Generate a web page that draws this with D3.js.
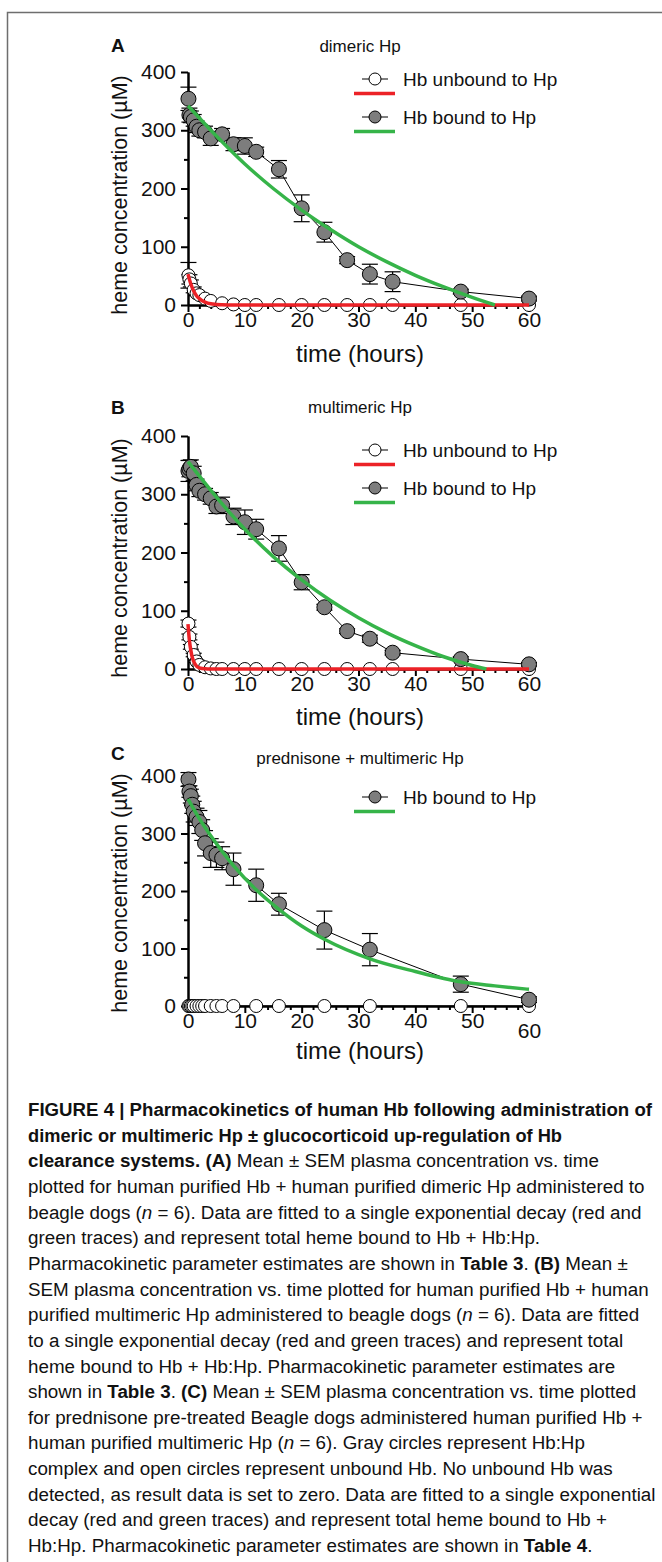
<!DOCTYPE html>
<html>
<head>
<meta charset="utf-8">
<script src="https://cdn.jsdelivr.net/npm/d3@7"></script>
<style>
body { margin: 0; background: #fff; }
svg text { font-family: "Liberation Sans", Arial, sans-serif; fill: #111; }
.cap { font-family: "Liberation Sans", Arial, sans-serif; font-size: 18.8px; white-space: pre; }
</style>
</head>
<body>
<svg id="fig" width="662" height="1562"></svg>
<script>
// ---- data (hours, heme uM) ----
var timeA = [0.08, 0.25, 0.5, 1, 1.5, 2, 3, 4, 6, 8, 10, 12, 16, 20, 24, 28, 32, 36, 48, 60];
var boundA = [354, 326, 323, 317, 306, 300, 297, 286, 293, 276, 273, 263, 233, 166, 125, 77, 53, 40, 23, 11];
var boundErrA = [20, 12, 10, 10, 10, 10, 10, 12, 10, 11, 14, 8, 15, 23, 17, 6, 17, 17, 4, 4];
var unboundA = [51, 44, 37, 26, 20, 17, 11, 7, 3, 1, 0, 0, 0, 0, 0, 0, 0, 0, 0, 0];
var unboundErrA = [22, 8, 6, 5, 4, 3, 2, 2, 1, 0, 0, 0, 0, 0, 0, 0, 0, 0, 0, 0];
var fitTimeRedA = [0, 0.5, 1, 1.5, 2, 3, 4, 5, 6, 8, 60];
var fitRedA = [53, 36, 24, 16, 11, 5, 2, 1, 0.5, 0, 0];
var fitTimeGreenA = [0, 5, 10, 15, 20, 25, 30, 35, 40, 45, 50, 54];
var fitGreenA = [342, 290, 242, 200, 163, 130, 100, 74, 51, 31, 13, 0];

var timeB = [0.08, 0.25, 0.5, 1, 1.5, 2, 3, 4, 5, 6, 8, 10, 12, 16, 20, 24, 28, 32, 36, 48, 60];
var boundB = [340, 344, 347, 336, 316, 306, 300, 293, 279, 281, 262, 252, 240, 207, 149, 106, 65, 52, 28, 17, 8];
var boundErrB = [18, 14, 12, 12, 10, 10, 10, 10, 12, 14, 14, 21, 17, 22, 13, 5, 4, 6, 4, 4, 3];
var unboundB = [78, 55, 38, 24, 13, 7, 3, 1, 0, 0, 0, 0, 0, 0, 0, 0, 0, 0, 0, 0, 0];
var unboundErrB = [6, 5, 4, 3, 2, 1, 1, 0, 0, 0, 0, 0, 0, 0, 0, 0, 0, 0, 0, 0, 0];
var fitTimeRedB = [0, 0.25, 0.5, 0.75, 1, 1.5, 2, 3, 4, 60];
var fitRedB = [77, 49, 32, 20, 13, 5, 2, 0.3, 0, 0];
var fitTimeGreenB = [0, 5, 10, 15, 20, 25, 30, 35, 40, 45, 50, 52.5];
var fitGreenB = [356, 295, 240, 193, 153, 118, 88, 62, 40, 21, 6, 0];

var timeC = [0.08, 0.25, 0.5, 0.75, 1, 1.5, 2, 2.5, 3, 4, 5, 6, 8, 12, 16, 24, 32, 48, 60];
var boundC = [394, 373, 365, 350, 338, 329, 320, 306, 283, 266, 263, 257, 238, 210, 177, 132, 98, 38, 11];
var boundErrC = [12, 10, 12, 15, 18, 15, 20, 18, 22, 25, 22, 20, 28, 28, 19, 33, 28, 14, 5];
var unboundC = [0, 0, 0, 0, 0, 0, 0, 0, 0, 0, 0, 0, 0, 0, 0, 0, 0, 0, 0];
var fitTimeGreenC = [0, 2, 4, 8, 12, 16, 20, 24, 32, 40, 48, 54, 60];
var fitGreenC = [360, 326, 296, 244, 202, 168, 139, 116, 82, 60, 42, 35, 29];

var xTicks = [0, 10, 20, 30, 40, 50, 60];
var yTicks = [0, 100, 200, 300, 400];
var legendLabels = ["Hb unbound to Hp", "Hb bound to Hp"];

var RED = "#ec2227", GREEN = "#36b449", GRAY = "#7d7d7d";

var svg = d3.select("#fig");

// frame
svg.append("rect").attr("x", 7.5).attr("y", 12.5).attr("width", 700).attr("height", 1600)
    .attr("fill", "none").attr("stroke", "#6e6e6e").attr("stroke-width", 1.5);

var panels = [
    {letter: "A", title: "dimeric Hp", y0: 305, y400: 72, letterY: 52, titleY: 52, legY: 79, xlabY: 362, ylabY: 195,
     t: timeA, bound: boundA, bErr: boundErrA, unbound: unboundA, uErr: unboundErrA,
     redT: fitTimeRedA, red: fitRedA, greenT: fitTimeGreenA, green: fitGreenA, lowSixty: false},
    {letter: "B", title: "multimeric Hp", y0: 669, y400: 436, letterY: 414, titleY: 413, legY: 450, xlabY: 725, ylabY: 558,
     t: timeB, bound: boundB, bErr: boundErrB, unbound: unboundB, uErr: unboundErrB,
     redT: fitTimeRedB, red: fitRedB, greenT: fitTimeGreenB, green: fitGreenB, lowSixty: false},
    {letter: "C", title: "prednisone + multimeric Hp", y0: 1006, y400: 776, letterY: 760, titleY: 764, legY: 797, xlabY: 1059, ylabY: 893,
     t: timeC, bound: boundC, bErr: boundErrC, unbound: unboundC, uErr: null,
     redT: null, red: null, greenT: fitTimeGreenC, green: fitGreenC, lowSixty: true}
];

var x = d3.scaleLinear().domain([0, 60]).range([188, 529]);

panels.forEach(function(p) {
    var y = d3.scaleLinear().domain([0, 400]).range([p.y0, p.y400]);
    var g = svg.append("g");

    // axes
    var minorX = d3.range(2, 60, 2).filter(function(v) { return v % 10 != 0; });
    var minorY = [50, 150, 250, 350];
    g.append("g").attr("transform", "translate(0," + p.y0 + ")")
        .call(d3.axisBottom(x).tickValues(minorX).tickSize(4).tickSizeOuter(0).tickFormat(""));
    var xa = g.append("g").attr("transform", "translate(0," + p.y0 + ")")
        .call(d3.axisBottom(x).tickValues(xTicks).tickSize(7).tickSizeOuter(0).tickPadding(0));
    g.append("g").attr("transform", "translate(188,0)")
        .call(d3.axisLeft(y).tickValues(minorY).tickSize(4).tickSizeOuter(0).tickFormat(""));
    g.append("g").attr("transform", "translate(188,0)")
        .call(d3.axisLeft(y).tickValues(yTicks).tickSize(7).tickSizeOuter(0).tickPadding(5));
    g.selectAll(".domain, .tick line").attr("stroke", "#000").attr("stroke-width", 2);
    g.selectAll(".tick text").attr("font-size", 21).attr("font-family", "Liberation Sans, Arial, sans-serif").attr("fill", "#111");
    if (p.lowSixty) {
        xa.selectAll(".tick text").filter(function(d) { return d == 60; }).attr("dy", "1.2em");
    }

    // labels
    g.append("text").attr("x", 111).attr("y", p.letterY).attr("font-size", 19).attr("font-weight", "bold").text(p.letter);
    g.append("text").attr("x", 360).attr("y", p.titleY).attr("text-anchor", "middle").attr("font-size", 17).text(p.title);
    g.append("text").attr("x", 360).attr("y", p.xlabY).attr("text-anchor", "middle").attr("font-size", 24).text("time (hours)");
    g.append("text").attr("transform", "translate(127," + p.ylabY + ") rotate(-90)")
        .attr("text-anchor", "middle").attr("font-size", 21.5).text("heme concentration (\u00b5M)");

    var line = d3.line().x(function(d) { return x(d[0]); }).y(function(d) { return y(d[1]); });
    var fitLine = d3.line().curve(d3.curveMonotoneX).x(function(d) { return x(d[0]); }).y(function(d) { return y(d[1]); });

    function drawSeries(vals, errs, fill, r) {
        var pts = p.t.map(function(t, i) { return [t, vals[i], errs ? errs[i] : 0]; });
        g.append("path").datum(pts).attr("d", line).attr("fill", "none").attr("stroke", "#000").attr("stroke-width", 1);
        var eb = g.append("g").selectAll("g").data(pts.filter(function(d) { return d[2] > 0; })).enter().append("g")
            .attr("stroke", "#000").attr("stroke-width", 1.2);
        eb.append("line").attr("x1", function(d) { return x(d[0]); }).attr("x2", function(d) { return x(d[0]); })
            .attr("y1", function(d) { return y(d[1] + d[2]); }).attr("y2", function(d) { return y(Math.max(0, d[1] - d[2])); });
        eb.append("line").attr("x1", function(d) { return x(d[0]) - 8; }).attr("x2", function(d) { return x(d[0]) + 8; })
            .attr("y1", function(d) { return y(d[1] + d[2]); }).attr("y2", function(d) { return y(d[1] + d[2]); });
        eb.append("line").attr("x1", function(d) { return x(d[0]) - 8; }).attr("x2", function(d) { return x(d[0]) + 8; })
            .attr("y1", function(d) { return y(Math.max(0, d[1] - d[2])); }).attr("y2", function(d) { return y(Math.max(0, d[1] - d[2])); });
        g.append("g").selectAll("circle").data(pts).enter().append("circle")
            .attr("cx", function(d) { return x(d[0]); }).attr("cy", function(d) { return y(d[1]); })
            .attr("r", r).attr("fill", fill).attr("stroke", "#000").attr("stroke-width", 1);
    }

    drawSeries(p.unbound, p.uErr, "#fff", 6.5);
    drawSeries(p.bound, p.bErr, GRAY, 7.5);

    if (p.red) {
        g.append("path").datum(p.redT.map(function(t, i) { return [t, p.red[i]]; })).attr("d", fitLine)
            .attr("fill", "none").attr("stroke", RED).attr("stroke-width", 3.5);
    }
    g.append("path").datum(p.greenT.map(function(t, i) { return [t, p.green[i]]; })).attr("d", fitLine)
        .attr("fill", "none").attr("stroke", GREEN).attr("stroke-width", 3.5);

    // legend
    var rows = p.red ? [[legendLabels[0], "#fff", RED], [legendLabels[1], GRAY, GREEN]] : [[legendLabels[1], GRAY, GREEN]];
    rows.forEach(function(row, i) {
        var ly = p.legY + i * 38;
        g.append("line").attr("x1", 362).attr("x2", 388).attr("y1", ly).attr("y2", ly).attr("stroke", "#000").attr("stroke-width", 1);
        g.append("circle").attr("cx", 375).attr("cy", ly).attr("r", 6).attr("fill", row[1]).attr("stroke", "#000");
        g.append("line").attr("x1", 354).attr("x2", 395).attr("y1", ly + 14.5).attr("y2", ly + 14.5).attr("stroke", row[2]).attr("stroke-width", 3.5);
        g.append("text").attr("x", 403).attr("y", ly + 7).attr("font-size", 19).text(row[0]);
    });
});

// caption
var captionLines = [
    [["b", "FIGURE 4 | Pharmacokinetics of human Hb following administration of"]],
    [["b", "dimeric or multimeric Hp \u00b1 glucocorticoid up-regulation of Hb"]],
    [["b", "clearance systems. (A)"], ["", " Mean \u00b1 SEM plasma concentration vs. time"]],
    [["", "plotted for human purified Hb + human purified dimeric Hp administered to"]],
    [["", "beagle dogs ("], ["i", "n"], ["", " = 6). Data are fitted to a single exponential decay (red and"]],
    [["", "green traces) and represent total heme bound to Hb + Hb:Hp."]],
    [["", "Pharmacokinetic parameter estimates are shown in "], ["b", "Table 3"], ["", ". "], ["b", "(B)"], ["", " Mean \u00b1"]],
    [["", "SEM plasma concentration vs. time plotted for human purified Hb + human"]],
    [["", "purified multimeric Hp administered to beagle dogs ("], ["i", "n"], ["", " = 6). Data are fitted"]],
    [["", "to a single exponential decay (red and green traces) and represent total"]],
    [["", "heme bound to Hb + Hb:Hp. Pharmacokinetic parameter estimates are"]],
    [["", "shown in "], ["b", "Table 3"], ["", ". "], ["b", "(C)"], ["", " Mean \u00b1 SEM plasma concentration vs. time plotted"]],
    [["", "for prednisone pre-treated Beagle dogs administered human purified Hb +"]],
    [["", "human purified multimeric Hp ("], ["i", "n"], ["", " = 6). Gray circles represent Hb:Hp"]],
    [["", "complex and open circles represent unbound Hb. No unbound Hb was"]],
    [["", "detected, as result data is set to zero. Data are fitted to a single exponential"]],
    [["", "decay (red and green traces) and represent total heme bound to Hb +"]],
    [["", "Hb:Hp. Pharmacokinetic parameter estimates are shown in "], ["b", "Table 4"], ["", "."]]
];
// the two all-bold lines are set condensed in the original
var capWidths = {0: 624, 1: 534};

var cap = svg.append("g");
captionLines.forEach(function(segs, i) {
    var t = cap.append("text").attr("class", "cap").attr("x", 28).attr("y", 1116 + i * 25.65);
    if (capWidths[i]) t.attr("textLength", capWidths[i]).attr("lengthAdjust", "spacingAndGlyphs");
    segs.forEach(function(s) {
        t.append("tspan").attr("font-weight", s[0] == "b" ? "bold" : null)
            .attr("font-style", s[0] == "i" ? "italic" : null).text(s[1]);
    });
});
</script>
</body>
</html>
